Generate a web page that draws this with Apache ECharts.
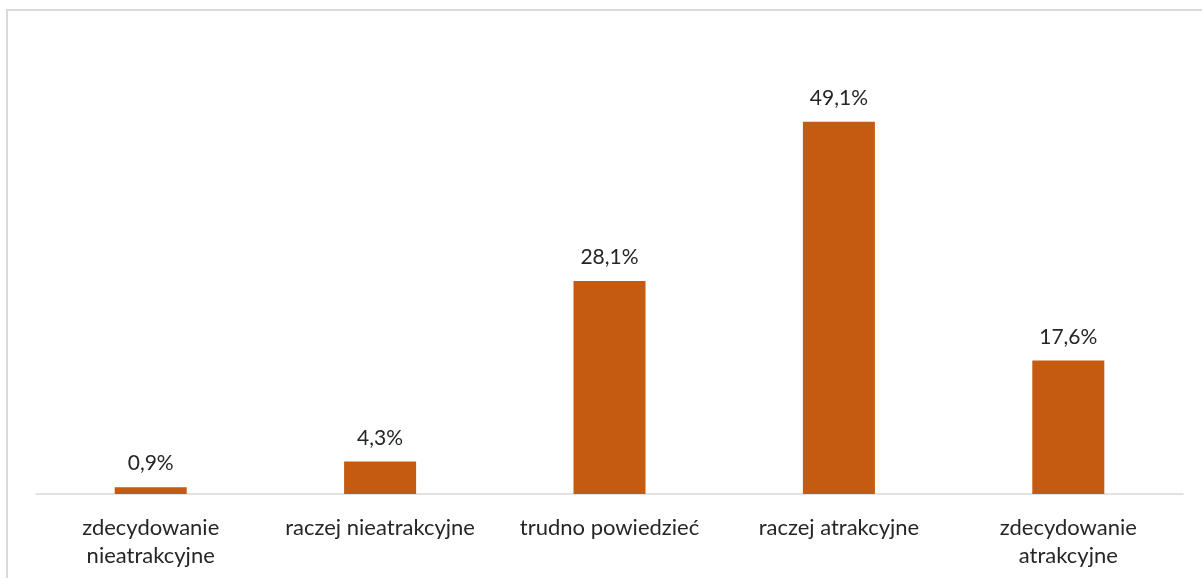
<!DOCTYPE html>
<html>
<head>
<meta charset="utf-8">
<script src="https://cdn.jsdelivr.net/npm/echarts@6/dist/echarts.min.js"></script>
<style>
  html, body { margin: 0; padding: 0; background: #ffffff; }
  #chart { width: 1202px; height: 578px; }
</style>
</head>
<body>
<div id="chart"></div>
<script>
// Answer categories (axis labels) and their shares in percent
const categories = [
  'zdecydowanie\nnieatrakcyjne',
  'raczej nieatrakcyjne',
  'trudno powiedzieć',
  'raczej atrakcyjne',
  'zdecydowanie\natrakcyjne'
];
const shares = [0.9, 4.3, 28.1, 49.1, 17.6];

const FONT = 'Lato';
const chart = echarts.init(document.getElementById('chart'), null, { renderer: 'canvas' });

chart.setOption({
  animation: false,
  backgroundColor: '#ffffff',
  textStyle: { fontFamily: FONT },
  graphic: [
    {
      // chart-area frame (left and top edges)
      type: 'polyline',
      shape: { points: [[7, 578], [7, 10], [1202, 10]] },
      style: { stroke: '#D9D9D9', lineWidth: 2, fill: null },
      silent: true
    }
  ],
  grid: { left: 36, right: 19, top: 39, bottom: 84, containLabel: false },
  xAxis: {
    type: 'category',
    data: categories,
    axisLine: { show: true, lineStyle: { color: '#D9D9D9', width: 1.5 } },
    axisTick: { show: false },
    axisLabel: {
      interval: 0,
      margin: 20,
      color: '#262626',
      fontFamily: FONT,
      fontSize: 22,
      lineHeight: 28
    }
  },
  yAxis: {
    type: 'value',
    min: 0,
    max: 60,
    show: false,
    splitLine: { show: false }
  },
  series: [
    {
      type: 'bar',
      data: shares,
      barWidth: 72,
      itemStyle: { color: '#C55A11' },
      label: {
        show: true,
        position: 'top',
        distance: 13,
        color: '#262626',
        fontFamily: FONT,
        fontSize: 21,
        formatter: p => p.value.toFixed(1).replace('.', ',') + '%'
      }
    }
  ]
});
</script>
</body>
</html>
